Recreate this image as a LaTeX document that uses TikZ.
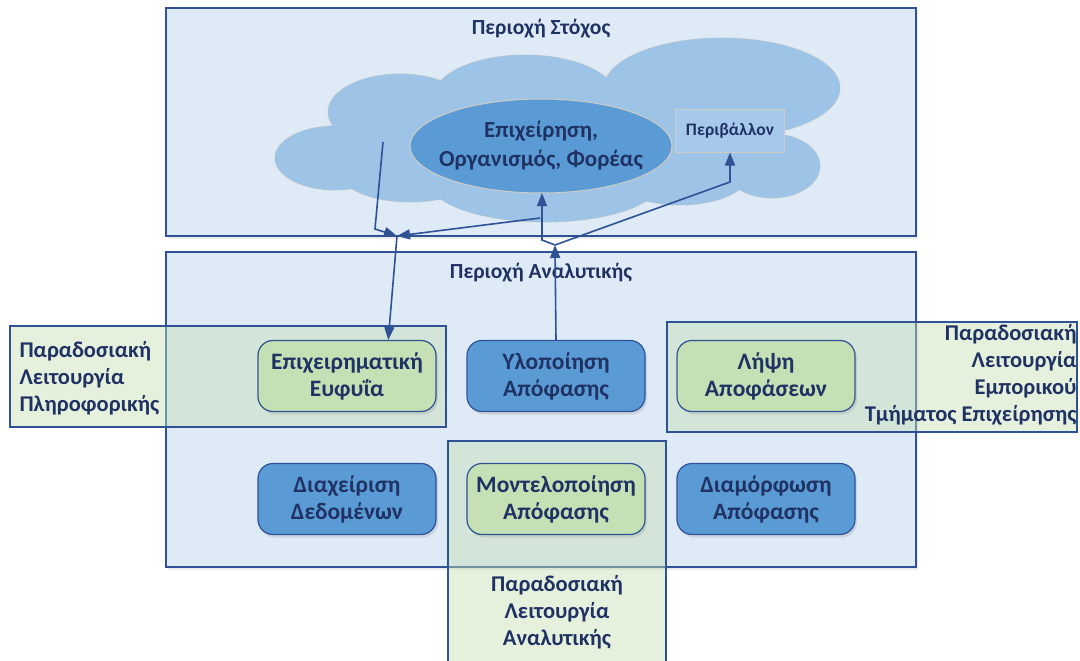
\documentclass[tikz,border=0pt]{standalone}
\usepackage{fontspec}
\setmainfont{Carlito}
\usetikzlibrary{arrows.meta, calc, shadows}
\definecolor{ink}{RGB}{31, 50, 99}
\definecolor{frame}{RGB}{47, 82, 150}
\definecolor{areabg}{RGB}{222, 234, 246}
\definecolor{cloudbg}{RGB}{157, 195, 230}
\definecolor{cloudln}{RGB}{205, 205, 198}
\definecolor{ovalbg}{RGB}{91, 155, 213}
\definecolor{envbg}{RGB}{166, 200, 235}
\definecolor{greenbg}{RGB}{197, 224, 180}

\begin{document}
\begin{tikzpicture}[x=1pt, y=-1pt,
    area/.style={draw=frame, fill=areabg, line width=1.3pt, drop shadow={opacity=0.15, shadow xshift=2pt, shadow yshift=-3pt}},
    title/.style={font=\fontsize{21.5}{25}\selectfont\bfseries\color{ink}},
    trad/.style={draw=frame, fill=greenbg, fill opacity=0.45, line width=1.2pt},
    tradtext/.style={font=\fontsize{22.5}{27}\selectfont\bfseries\color{ink}},
    block/.style={draw=frame, line width=1.2pt, rounded corners=15pt, minimum width=178pt, minimum height=71pt,
      align=center, font=\fontsize{23.5}{27}\selectfont\bfseries\color{ink},
      drop shadow={opacity=0.2, shadow xshift=2pt, shadow yshift=-3pt}},
    blockblue/.style={block, fill=ovalbg},
    blockgreen/.style={block, fill=greenbg},
    arr/.style={-{Triangle[length=13pt, width=10pt]}, color=frame, line width=1.6pt},
  ]
    \useasboundingbox (0,0) rectangle (1080,661);

    % target area with the cloud
    \path[area] (166,8) rectangle (916,236);
    \node[title] (targettitle) at (541,29) {Περιοχή Στόχος};

    \foreach \cx/\cy/\rx/\ry in {335/158/60/32, 400/112/72/38, 525/98/92/43, 722/88/118/50,
        772/166/48/32, 545/182/115/40, 410/172/70/30, 680/172/70/33}
      \draw[cloudln, line width=1pt] (\cx,\cy) ellipse [x radius=\rx pt, y radius=\ry pt];
    \foreach \cx/\cy/\rx/\ry in {335/158/60/32, 400/112/72/38, 525/98/92/43, 722/88/118/50,
        772/166/48/32, 545/182/115/40, 410/172/70/30, 680/172/70/33, 560/140/180/50}
      \fill[cloudbg] (\cx,\cy) ellipse [x radius=\rx pt, y radius=\ry pt];

    \path[draw=cloudln, fill=ovalbg, line width=1pt] (541,146) ellipse [x radius=131pt, y radius=47pt];
    \node[align=center, font=\fontsize{23}{29}\selectfont\bfseries\color{ink}] (firm) at (541,146)
      {Επιχείρηση,\\Οργανισμός, Φορέας};
    \node[draw=cloudln, fill=envbg, line width=1pt, minimum width=109pt, minimum height=42pt,
      font=\fontsize{17.5}{19}\selectfont\bfseries\color{ink}] (env) at (730,131) {Περιβάλλον};

    % analytics area
    \path[area] (166,252) rectangle (916,567);
    \node[title] (analyticstitle) at (541,273) {Περιοχή Αναλυτικής};

    % traditional functions
    \path[trad] (10,326) rectangle (446,427);
    \path[trad] (667,322) rectangle (1077,432);
    \fill[greenbg, fill opacity=0.45] (448,441) rectangle (666,661);
    \draw[frame, line width=1.2pt] (448,661) -- (448,441) -- (666,441) -- (666,661);

    \node[blockgreen] (bi) at (347,376) {Επιχειρηματική\\Ευφυΐα};
    \node[blockblue] (impl) at (556,376) {Υλοποίηση\\Απόφασης};
    \node[blockgreen] (take) at (766,376) {Λήψη\\Αποφάσεων};
    \node[blockblue] (data) at (347,499) {Διαχείριση\\Δεδομένων};
    \node[blockgreen] (model) at (556,499) {Μοντελοποίηση\\Απόφασης};
    \node[blockblue] (form) at (766,499) {Διαμόρφωση\\Απόφασης};

    \node[tradtext, anchor=west, align=left] (itfunc) at (16,378) {Παραδοσιακή\\Λειτουργία\\Πληροφορικής};
    \node[tradtext, anchor=east, align=right] (bizfunc) at (1080,375) {Παραδοσιακή\\Λειτουργία\\Εμπορικού\\Τμήματος Επιχείρησης};
    \node[tradtext, align=center] (anfunc) at (557,612) {Παραδοσιακή\\Λειτουργία\\Αναλυτικής};

    % connectors
    \coordinate (j1) at (397,236);
    \coordinate (j2) at (555,245);
    \coordinate (cloudin) at (383,142);
    \coordinate (bend1) at (375,229);
    \coordinate (firmfoot) at (540,218);
    \coordinate (bend2) at (542,240);
    \coordinate (firmbot) at (542,193);
    \coordinate (bend3) at (730,182);

    \draw[arr] (cloudin) -- (bend1) -- (j1);
    \draw[arr] (firmfoot) -- (j1);
    \draw[arr] (j1) -- ($(bi.north west)!0.73!(bi.north east)$);
    \draw[arr] (impl.north) -- (j2);
    \draw[arr] (j2) -- (bend2) -- (firmbot);
    \draw[arr] (j2) -- (bend3) -- (env.south);

  \end{tikzpicture}
\end{document}
